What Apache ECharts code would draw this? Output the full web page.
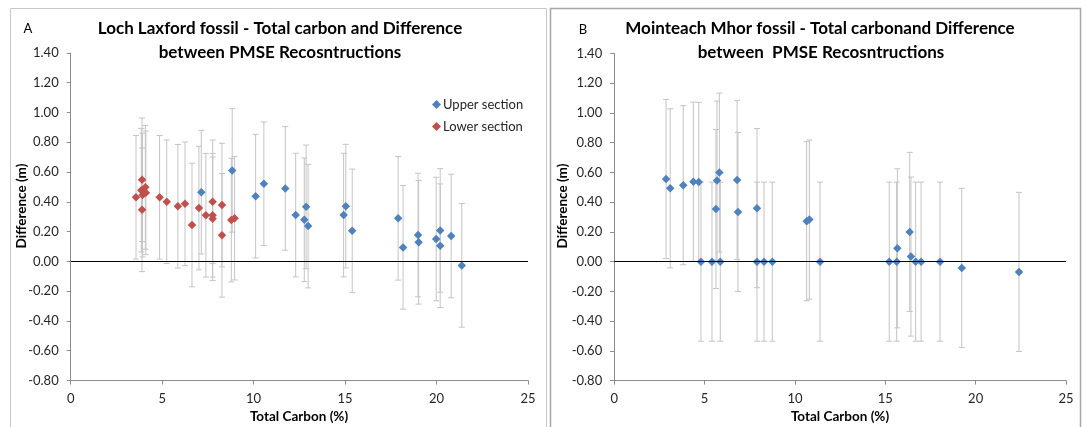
<!DOCTYPE html>
<html>
<head>
<meta charset="utf-8">
<script src="https://cdn.jsdelivr.net/npm/echarts@6/dist/echarts.min.js"></script>
<style>
html,body{margin:0;padding:0;background:#fff;}
#chart{width:1087px;height:427px;}
</style>
</head>
<body>
<div id="chart"></div>
<script>
// ---- Data ----
// Panel A: Loch Laxford fossil
const lochUpperCarbon = [7.14, 8.83, 10.11, 10.56, 11.73, 12.30, 12.77, 12.87, 12.98, 14.92, 15.04, 15.39, 17.90, 18.17, 18.99, 19.02, 19.98, 20.20, 20.20, 20.80, 21.38];
const lochUpperDiff   = [0.465, 0.611, 0.438, 0.521, 0.490, 0.311, 0.279, 0.366, 0.237, 0.311, 0.371, 0.205, 0.289, 0.094, 0.177, 0.128, 0.150, 0.208, 0.105, 0.170, -0.027];
const lochLowerCarbon = [3.57, 3.90, 3.90, 3.86, 3.93, 4.08, 4.11, 4.86, 5.25, 5.86, 6.25, 6.63, 7.01, 7.39, 7.76, 7.76, 7.76, 8.27, 8.27, 8.78, 8.96];
const lochLowerDiff   = [0.430, 0.548, 0.346, 0.478, 0.445, 0.497, 0.460, 0.430, 0.400, 0.370, 0.387, 0.244, 0.358, 0.310, 0.400, 0.310, 0.286, 0.378, 0.175, 0.277, 0.290];
const lochErrorMargin = 0.415;
// Panel B: Mointeach Mhor fossil
const mhorCarbon = [2.87, 3.10, 3.82, 4.38, 4.68, 4.80, 5.41, 5.63, 5.69, 5.82, 5.87, 6.80, 6.85, 7.90, 7.90, 8.29, 8.75, 10.65, 10.80, 11.39, 15.22, 15.63, 15.67, 16.35, 16.42, 16.68, 16.98, 18.03, 19.23, 22.40];
const mhorDiff   = [0.556, 0.493, 0.514, 0.538, 0.536, 0.000, 0.000, 0.354, 0.545, 0.599, 0.000, 0.550, 0.334, 0.360, 0.000, 0.000, 0.000, 0.272, 0.283, 0.000, 0.000, 0.000, 0.090, 0.200, 0.034, 0.000, 0.000, 0.000, -0.042, -0.069];
const mhorErrorMargin = 0.535;
// Axis ticks
const yTicks = {min: -0.8, max: 1.4, interval: 0.2};
const xTicks = {min: 0, max: 25, interval: 5};
const legendNames = ['Upper section', 'Lower section'];

// ---- Styling ----
const FONT = 'Lato, "Open Sans", sans-serif';
const BLUE = '#4F81BD', RED = '#C0504D';
const ERR = '#C4C4C4';
const AXIS = '#8C8C8C';
const TXT = '#262626';

const pairs = (xs, ys) => xs.map((x, i) => [x, ys[i]]);
const errs = (xs, ys, m) => xs.map((x, i) => [x, ys[i] - m, ys[i] + m]);

function errorBar(params, api) {
  const x = api.value(0), lo = api.value(1), hi = api.value(2);
  const a = api.coord([x, hi]), b = api.coord([x, lo]);
  const hw = 3;
  const st = {stroke: ERR, lineWidth: 1};
  return {type: 'group', children: [
    {type: 'line', shape: {x1: a[0], y1: a[1], x2: b[0], y2: b[1]}, style: st},
    {type: 'line', shape: {x1: a[0] - hw, y1: a[1], x2: a[0] + hw, y2: a[1]}, style: st},
    {type: 'line', shape: {x1: b[0] - hw, y1: b[1], x2: b[0] + hw, y2: b[1]}, style: st}
  ]};
}

function xAxisCfg(gi) {
  return {gridIndex: gi, type: 'value', min: xTicks.min, max: xTicks.max, interval: xTicks.interval,
    axisLine: {show: true, onZero: false, lineStyle: {color: AXIS, width: 1}},
    axisTick: {show: true, length: 4, lineStyle: {color: AXIS}},
    axisLabel: {color: TXT, fontFamily: FONT, fontSize: 13, margin: 12},
    splitLine: {show: false}};
}
function yAxisCfg(gi) {
  return {gridIndex: gi, type: 'value', min: yTicks.min, max: yTicks.max, interval: yTicks.interval,
    axisLine: {show: true, onZero: false, lineStyle: {color: AXIS, width: 1}},
    axisTick: {show: true, length: 4, lineStyle: {color: AXIS}},
    axisLabel: {color: TXT, fontFamily: FONT, fontSize: 13, margin: 12,
      formatter: v => v.toFixed(2)},
    splitLine: {show: false}};
}
const zeroLine = {silent: true, symbol: 'none', label: {show: false},
  lineStyle: {color: '#000', width: 1, type: 'solid'}, data: [{yAxis: 0}]};

function txt(x, y, text, opts) {
  return Object.assign({type: 'text', x: x, y: y, style: Object.assign({
    text: text, fill: '#000', font: 'bold 17px ' + FONT, align: 'center', verticalAlign: 'middle'}, opts || {})});
}

const chart = echarts.init(document.getElementById('chart'), null, {renderer: 'canvas'});
chart.setOption({
  animation: false,
  backgroundColor: '#fff',
  grid: [
    {left: 70.7, top: 52.9, width: 457.3, height: 327.6},
    {left: 614.2, top: 53.5, width: 451.8, height: 327.1}
  ],
  xAxis: [xAxisCfg(0), xAxisCfg(1)],
  yAxis: [yAxisCfg(0), yAxisCfg(1)],
  legend: {
    data: legendNames, orient: 'vertical', left: 427, top: 93, itemGap: 9,
    itemWidth: 9, itemHeight: 9, icon: 'diamond',
    textStyle: {color: TXT, fontFamily: FONT, fontSize: 13, padding: [0, 0, 0, -3]}
  },
  series: [
    {type: 'custom', name: 'errA1', xAxisIndex: 0, yAxisIndex: 0, renderItem: errorBar, z: 1,
      encode: {x: 0, y: [1, 2]}, data: errs(lochUpperCarbon, lochUpperDiff, lochErrorMargin), silent: true},
    {type: 'custom', name: 'errA2', xAxisIndex: 0, yAxisIndex: 0, renderItem: errorBar, z: 1,
      encode: {x: 0, y: [1, 2]}, data: errs(lochLowerCarbon, lochLowerDiff, lochErrorMargin), silent: true},
    {type: 'custom', name: 'errB', xAxisIndex: 1, yAxisIndex: 1, renderItem: errorBar, z: 1,
      encode: {x: 0, y: [1, 2]}, data: errs(mhorCarbon, mhorDiff, mhorErrorMargin), silent: true},
    {type: 'scatter', name: legendNames[0], xAxisIndex: 0, yAxisIndex: 0, symbol: 'diamond', symbolSize: 8.5,
      itemStyle: {color: BLUE, opacity: 1}, data: pairs(lochUpperCarbon, lochUpperDiff), z: 4,
      markLine: zeroLine},
    {type: 'scatter', name: legendNames[1], xAxisIndex: 0, yAxisIndex: 0, symbol: 'diamond', symbolSize: 8.5,
      itemStyle: {color: RED, opacity: 1}, data: pairs(lochLowerCarbon, lochLowerDiff), z: 4},
    {type: 'scatter', name: 'Mointeach Mhor', xAxisIndex: 1, yAxisIndex: 1, symbol: 'diamond', symbolSize: 8.5,
      itemStyle: {color: BLUE, opacity: 1}, data: pairs(mhorCarbon, mhorDiff), z: 4,
      markLine: zeroLine}
  ],
  graphic: [
    {type: 'rect', shape: {x: 10.5, y: 8.5, width: 536, height: 430}, style: {fill: null, stroke: '#C8C8C8', lineWidth: 1}, z: -1},
    {type: 'rect', shape: {x: 550.5, y: 8.5, width: 530, height: 430}, style: {fill: null, stroke: '#A6A6A6', lineWidth: 1.5}, z: -1},
    txt(28, 29, 'A', {font: '13px ' + FONT}),
    txt(583, 30, 'B', {font: '13px ' + FONT}),
    txt(280, 29, 'Loch Laxford fossil - Total carbon and Difference'),
    txt(280, 53, 'between PMSE Recosntructions'),
    txt(820, 29, 'Mointeach Mhor fossil - Total carbonand Difference'),
    txt(821, 53, 'between  PMSE Recosntructions'),
    txt(299, 417, 'Total Carbon (%)', {font: 'bold 13.5px ' + FONT}),
    txt(840, 417, 'Total Carbon (%)', {font: 'bold 13.5px ' + FONT}),
    txt(22, 206, 'Difference (m)', {font: 'bold 13.5px ' + FONT}),
    txt(563, 206, 'Difference (m)', {font: 'bold 13.5px ' + FONT})
  ].map((g, i) => (i >= 10 ? Object.assign(g, {rotation: Math.PI / 2}) : g))
});
</script>
</body>
</html>
